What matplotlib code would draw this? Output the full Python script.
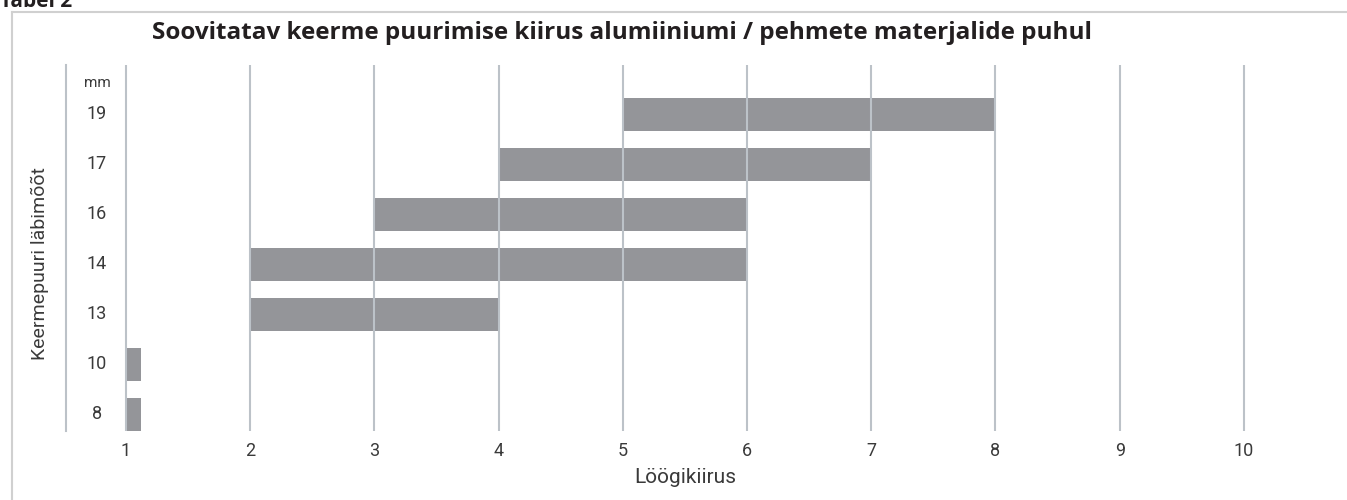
import matplotlib.pyplot as plt
from matplotlib.lines import Line2D
from matplotlib.transforms import blended_transform_factory

# thread diameter (mm) and the recommended stroke-speed range
diameters = ['8', '10', '13', '14', '16', '17', '19']
speed_from = [1, 1, 2, 2, 3, 4, 5]
speed_to = [1.12, 1.12, 4, 6, 6, 7, 8]
x_ticks = [1, 2, 3, 4, 5, 6, 7, 8, 9, 10]

title = 'Soovitatav keerme puurimise kiirus alumiiniumi / pehmete materjalide puhul'
label_font = 'Roboto'
label_color = '#3a3a3a'

fig = plt.figure(figsize=(13.47, 5), dpi=100)
ax = fig.add_axes([0.049, 0.138, 0.919, 0.732])

pos = list(range(len(diameters)))
widths = [b - a for a, b in zip(speed_from, speed_to)]
ax.barh(pos, widths, left=speed_from, height=0.66, color='#949599', zorder=1)

for x in x_ticks:
    ax.axvline(x, color='#bcc2c8', lw=1.5, zorder=3)

ax.set_xlim(0.517, 10.483)
ax.set_ylim(-0.34, 6.98)
ax.set_xticks(x_ticks)
ax.set_xticklabels([str(x) for x in x_ticks], family=label_font,
                   fontsize=13, color=label_color)
ax.tick_params(axis='x', length=0, pad=8)
ax.set_yticks([])

for s in ['top', 'right', 'bottom']:
    ax.spines[s].set_visible(False)
ax.spines['left'].set_color('#bcc2c8')
ax.spines['left'].set_linewidth(1.5)

tr = blended_transform_factory(ax.transAxes, ax.transData)
for p, d in zip(pos, diameters):
    ax.text(0.025, p, d, transform=tr, ha='center', va='center',
            family=label_font, fontsize=13, color=label_color)
ax.text(0.025, 6.62, 'mm', transform=tr, ha='center', va='center',
        family=label_font, fontsize=11, color=label_color)

ax.set_xlabel('Löögikiirus', family=label_font, fontsize=15,
              color=label_color, labelpad=6)
fig.text(0.030, 0.472, 'Keermepuuri läbimõõt', rotation=90, ha='center', va='center',
         family=label_font, fontsize=14, color=label_color)

fig.text(0.462, 0.934, title, ha='center', va='center', family='Open Sans',
         fontweight='bold', fontsize=17.5, color='#231f20')
fig.text(0.0, 0.986, 'Tabel 2', ha='left', va='baseline', family='Open Sans',
         fontweight='bold', fontsize=15, color='#231f20')

# outer frame (top and left edges visible)
fig.add_artist(Line2D([0.009, 1.0], [0.976, 0.976], transform=fig.transFigure,
                      color='#d0d0d0', lw=1.5))
fig.add_artist(Line2D([0.009, 0.009], [0.0, 0.976], transform=fig.transFigure,
                      color='#d0d0d0', lw=1.5))

fig.savefig('out.png', dpi=100)
